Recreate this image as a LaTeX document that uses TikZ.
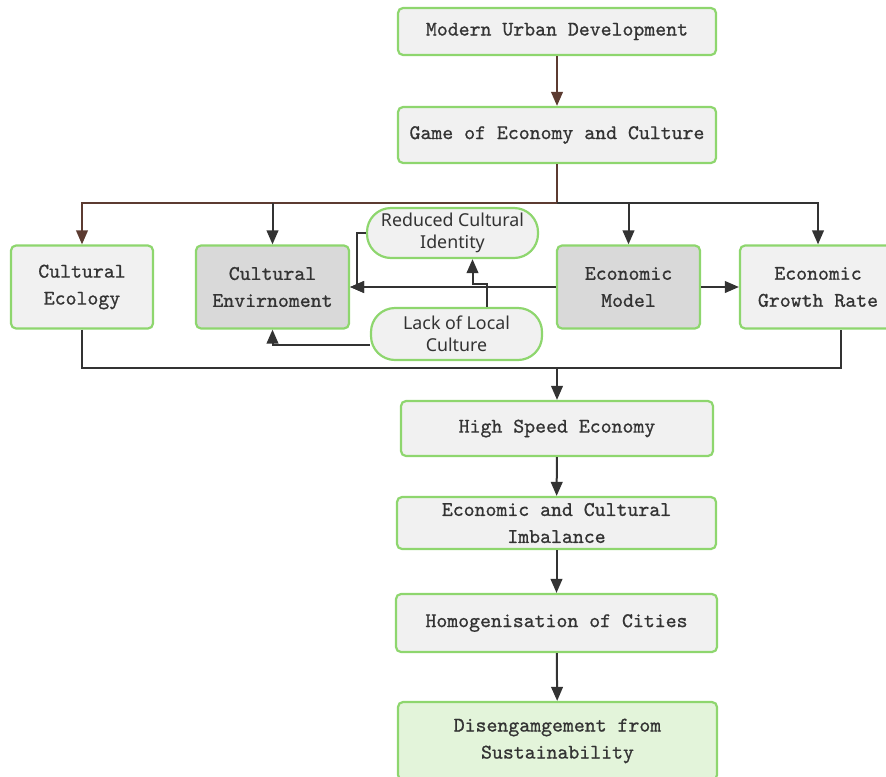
\documentclass[tikz,border=0pt]{standalone}
\usepackage{fontspec}
\usetikzlibrary{arrows.meta}
\newfontfamily\pillfont{Noto Sans}
\newfontfamily\boxfont{Latin Modern Mono}[RawFeature={embolden=0.8}]
\definecolor{boxgreen}{HTML}{8ED66E}
\definecolor{boxgray}{HTML}{F1F1F1}
\definecolor{boxdark}{HTML}{D9D9D9}
\definecolor{boxlight}{HTML}{E3F4DA}
\definecolor{linebrown}{HTML}{5C3B31}
\definecolor{linedark}{HTML}{333333}
\begin{document}
\begin{tikzpicture}[x=0.5pt,y=-0.5pt]
                \tikzset{box/.style={draw=boxgreen, line width=1.1pt, fill=boxgray, rounded corners=2.5pt, align=center, inner sep=0pt, text=linedark, font=\fontsize{10.4}{13.5}\selectfont\boxfont},
                         pill/.style={box, rounded corners=12pt, font=\fontsize{8.9}{11.2}\selectfont\pillfont},
                         con/.style={draw=linedark, line width=1pt, -{Triangle[length=7pt,width=5.8pt]}},
                         brn/.style={con, draw=linebrown, -{Triangle[length=7pt,width=5.8pt,fill=linebrown]}},
                         plain/.style={draw=linedark, line width=1pt}}
                \useasboundingbox (0,0) rectangle (886,776);
                \node[box, minimum width=159pt, minimum height=23.5pt] (mud) at (557,31.5) {Modern Urban Development};
                \node[box, minimum width=159pt, minimum height=28pt] (game) at (557,135) {Game of Economy and Culture};
                \node[box, minimum width=71pt, minimum height=41.5pt] (ecol) at (82,287) {Cultural\\Ecology};
                \node[box, fill=boxdark, minimum width=76.5pt, minimum height=41.5pt] (env) at (272.5,287) {Cultural\\Envirnoment};
                \node[box, fill=boxdark, minimum width=71.5pt, minimum height=41.5pt] (model) at (628.5,287) {Economic\\Model};
                \node[box, minimum width=78pt, minimum height=41.5pt] (grow) at (818,287) {Economic\\Growth Rate};
                \node[pill, minimum width=85.5pt, minimum height=25pt] (red) at (452.5,233) {Reduced Cultural\\Identity};
                \node[pill, minimum width=85.5pt, minimum height=26pt] (lack) at (456.5,334) {Lack of Local\\Culture};
                \node[box, minimum width=156pt, minimum height=27.5pt] (hse) at (557,428.5) {High Speed Economy};
                \node[box, minimum width=159.5pt, minimum height=26pt] (imb) at (556.5,523) {Economic and Cultural\\Imbalance};
                \node[box, minimum width=160.5pt, minimum height=29pt] (homo) at (556.5,623) {Homogenisation of Cities};
                \node[box, fill=boxlight, minimum width=159.5pt, minimum height=39pt] (dis) at (557.5,741) {Disengamgement from\\Sustainability};
                \coordinate (split) at (557,203);
                \coordinate (merge) at (557,368);
                \draw[brn] (mud) -- (game);
                \draw[plain, draw=linebrown] (game) -- (split);
                \draw[brn] (split) -| (ecol);
                \draw[con] (env.north |- split) -- (env);
                \draw[con] (split) -| (grow);
                \draw[con] (model.north |- split) -- (model);
                \draw[con] (model) -- (env);
                \draw[con] (red.west) -- ++(-9,0) |- (env.east);
                \draw[con] ([xshift=15pt]lack.north) -- ++(0,-23) -| ([xshift=10pt]red.south);
                \draw[con] ([yshift=-5.5pt]lack.west) -| (env);
                \draw[con] (model) -- (grow);
                \draw[plain] (ecol.south) |- (merge) -| ([xshift=11.5pt]grow.south);
                \draw[con] (merge) -- (hse);
                \draw[con] (hse) -- (imb);
                \draw[con] (imb) -- (homo);
                \draw[con] (homo) -- (dis);
            \end{tikzpicture}
\end{document}
